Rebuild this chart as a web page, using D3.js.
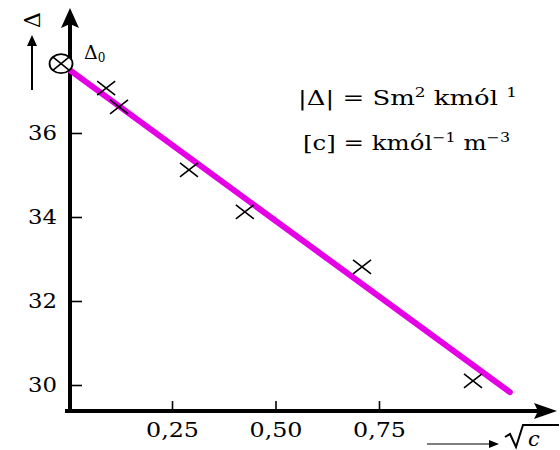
<!DOCTYPE html>
<html>
<head>
<meta charset="utf-8">
<script src="https://cdn.jsdelivr.net/npm/d3@7"></script>
<style>
  body { margin: 0; background: #fff; }
  svg text { font-family: "DejaVu Serif", "Liberation Serif", serif; fill: #000; }
</style>
</head>
<body>
<div id="chart"></div>
<script>
// chart size
var svgWidth = 560;
var svgHeight = 450;
var serif = "DejaVu Serif";

// measured points: sqrt(c) vs molar conductivity
var sqrtC = [0.091, 0.122, 0.291, 0.426, 0.709, 0.977];
var lambdaVals = [37.07, 36.62, 35.12, 34.12, 32.81, 30.10];

// fitted straight line (two ends)
var fitX = [0, 1.066];
var fitY = [37.52, 29.83];

// extrapolated value at c -> 0
var lambda0X = [-0.018];
var lambda0Y = [37.65];

// tick values and labels
var xTicks = [0.25, 0.50, 0.75];
var xTickLabels = ["0,25", "0,50", "0,75"];
var yTicks = [30, 32, 34, 36];
var yTickLabels = ["30", "32", "34", "36"];

var svg = d3.select("#chart")
  .append("svg")
  .attr("width", svgWidth)
  .attr("height", svgHeight);

// scales
var xScale = d3.scaleLinear().domain([0, 1]).range([68.5, 482.5]);
var yScale = d3.scaleLinear().domain([30, 36]).range([385, 133]);

var axisY0 = 411;   // pixel row of the x axis
var axisX0 = 70;    // pixel column of the y axis

// y axis ticks (inside) with labels on the left
var yAxis = d3.axisLeft(yScale)
  .tickValues(yTicks)
  .tickFormat((d, i) => yTickLabels[i])
  .tickSizeInner(-12)
  .tickSizeOuter(0)
  .tickPadding(13);

var yG = svg.append("g")
  .attr("transform", `translate(${axisX0}, 0)`)
  .call(yAxis)
  .attr("font-family", serif);
yG.select(".domain").remove();
yG.selectAll(".tick line").attr("stroke", "#000").attr("stroke-width", 1.6);
yG.selectAll(".tick text")
  .attr("font-size", 21)
  .attr("textLength", 29)
  .attr("lengthAdjust", "spacingAndGlyphs");

// x axis ticks (upward) with labels below
var xAxis = d3.axisBottom(xScale)
  .tickValues(xTicks)
  .tickFormat((d, i) => xTickLabels[i])
  .tickSizeInner(-10)
  .tickSizeOuter(0)
  .tickPadding(12);

var xG = svg.append("g")
  .attr("transform", `translate(0, ${axisY0})`)
  .call(xAxis)
  .attr("font-family", serif);
xG.select(".domain").remove();
xG.selectAll(".tick line").attr("stroke", "#000").attr("stroke-width", 1.6);
xG.selectAll(".tick text")
  .attr("font-size", 20)
  .attr("textLength", 53)
  .attr("lengthAdjust", "spacingAndGlyphs");

// axis lines with arrow heads
svg.append("line")
  .attr("x1", 65).attr("y1", axisY0)
  .attr("x2", 540).attr("y2", axisY0)
  .attr("stroke", "#000").attr("stroke-width", 4);
svg.append("path")
  .attr("d", `M557,${axisY0} L534,${axisY0 - 8} L538,${axisY0} L534,${axisY0 + 8} Z`)
  .attr("fill", "#000");

svg.append("line")
  .attr("x1", axisX0).attr("y1", axisY0 + 2)
  .attr("x2", axisX0).attr("y2", 24)
  .attr("stroke", "#000").attr("stroke-width", 4);
svg.append("path")
  .attr("d", `M${axisX0},8 L${axisX0 - 9},28 L${axisX0},24 L${axisX0 + 9},28 Z`)
  .attr("fill", "#000");

// fitted line
var fitData = fitX.map((d, i) => [d, fitY[i]]);
svg.append("path")
  .datum(fitData)
  .attr("d", d3.line().x(d => xScale(d[0])).y(d => yScale(d[1])))
  .attr("stroke", "#e600e6")
  .attr("stroke-width", 6)
  .attr("stroke-linecap", "round")
  .attr("fill", "none");

// data crosses
svg.selectAll("path.cross")
  .data(sqrtC)
  .enter()
  .append("path")
  .classed("cross", true)
  .attr("transform", (d, i) => `translate(${xScale(d)}, ${yScale(lambdaVals[i])})`)
  .attr("d", "M-9,-7L9,7M-9,7L9,-7")
  .attr("stroke", "#000")
  .attr("stroke-width", 1.6)
  .attr("fill", "none");

// extrapolated point (circled cross)
var l0 = svg.append("g")
  .attr("transform", `translate(${xScale(lambda0X[0])}, ${yScale(lambda0Y[0])})`);
l0.append("ellipse")
  .attr("rx", 11.5).attr("ry", 9.5)
  .attr("fill", "#fff").attr("stroke", "#000").attr("stroke-width", 1.8);
l0.append("path")
  .attr("d", "M-8,-6.5L8,6.5M-8,6.5L8,-6.5")
  .attr("stroke", "#000").attr("stroke-width", 1.6);

// Δ0 label
var d0 = svg.append("text")
  .attr("x", 84).attr("y", 59)
  .attr("font-family", serif)
  .attr("font-size", 19);
d0.append("tspan").text("Δ");
d0.append("tspan").attr("dy", 3).attr("font-size", 12).text("0");

// unit annotations
var u1 = svg.append("text")
  .attr("x", 298).attr("y", 105)
  .attr("textLength", 219)
  .attr("lengthAdjust", "spacingAndGlyphs")
  .attr("font-family", serif)
  .attr("font-size", 20);
u1.append("tspan").text("|Δ| = Sm");
u1.append("tspan").attr("dy", -8).attr("font-size", 13).text("2");
u1.append("tspan").attr("dy", 8).text(" kmól  ");
u1.append("tspan").attr("dy", -8).attr("font-size", 13).text("1");

var u2 = svg.append("text")
  .attr("x", 303).attr("y", 150)
  .attr("textLength", 207)
  .attr("lengthAdjust", "spacingAndGlyphs")
  .attr("font-family", serif)
  .attr("font-size", 20);
u2.append("tspan").text("[c] = kmól");
u2.append("tspan").attr("dy", -8).attr("font-size", 13).text("−1");
u2.append("tspan").attr("dy", 8).text(" m");
u2.append("tspan").attr("dy", -8).attr("font-size", 13).text("−3");

// y axis title: rotated Δ with an up arrow below it
svg.append("text")
  .attr("transform", "translate(40, 20) rotate(-90)")
  .attr("text-anchor", "middle")
  .attr("font-family", serif)
  .attr("font-size", 22)
  .text("Δ");
svg.append("line")
  .attr("x1", 32).attr("y1", 90)
  .attr("x2", 32).attr("y2", 44)
  .attr("stroke", "#000").attr("stroke-width", 2);
svg.append("path")
  .attr("d", "M32,35 L27,46 L37,46 Z")
  .attr("fill", "#000");

// x axis title: arrow then sqrt(c)
svg.append("line")
  .attr("x1", 427).attr("y1", 444)
  .attr("x2", 492).attr("y2", 444)
  .attr("stroke", "#000").attr("stroke-width", 1.2);
svg.append("path")
  .attr("d", "M499,444 L489,440 L489,448 Z")
  .attr("fill", "#000");
svg.append("path")
  .attr("d", "M505,437 L510,434 L516,447 L523,425 L559,425")
  .attr("stroke", "#000").attr("stroke-width", 2)
  .attr("fill", "none");
svg.append("text")
  .attr("x", 528).attr("y", 446)
  .attr("font-family", serif)
  .attr("font-size", 21)
  .attr("font-style", "italic")
  .text("c");
</script>
</body>
</html>
